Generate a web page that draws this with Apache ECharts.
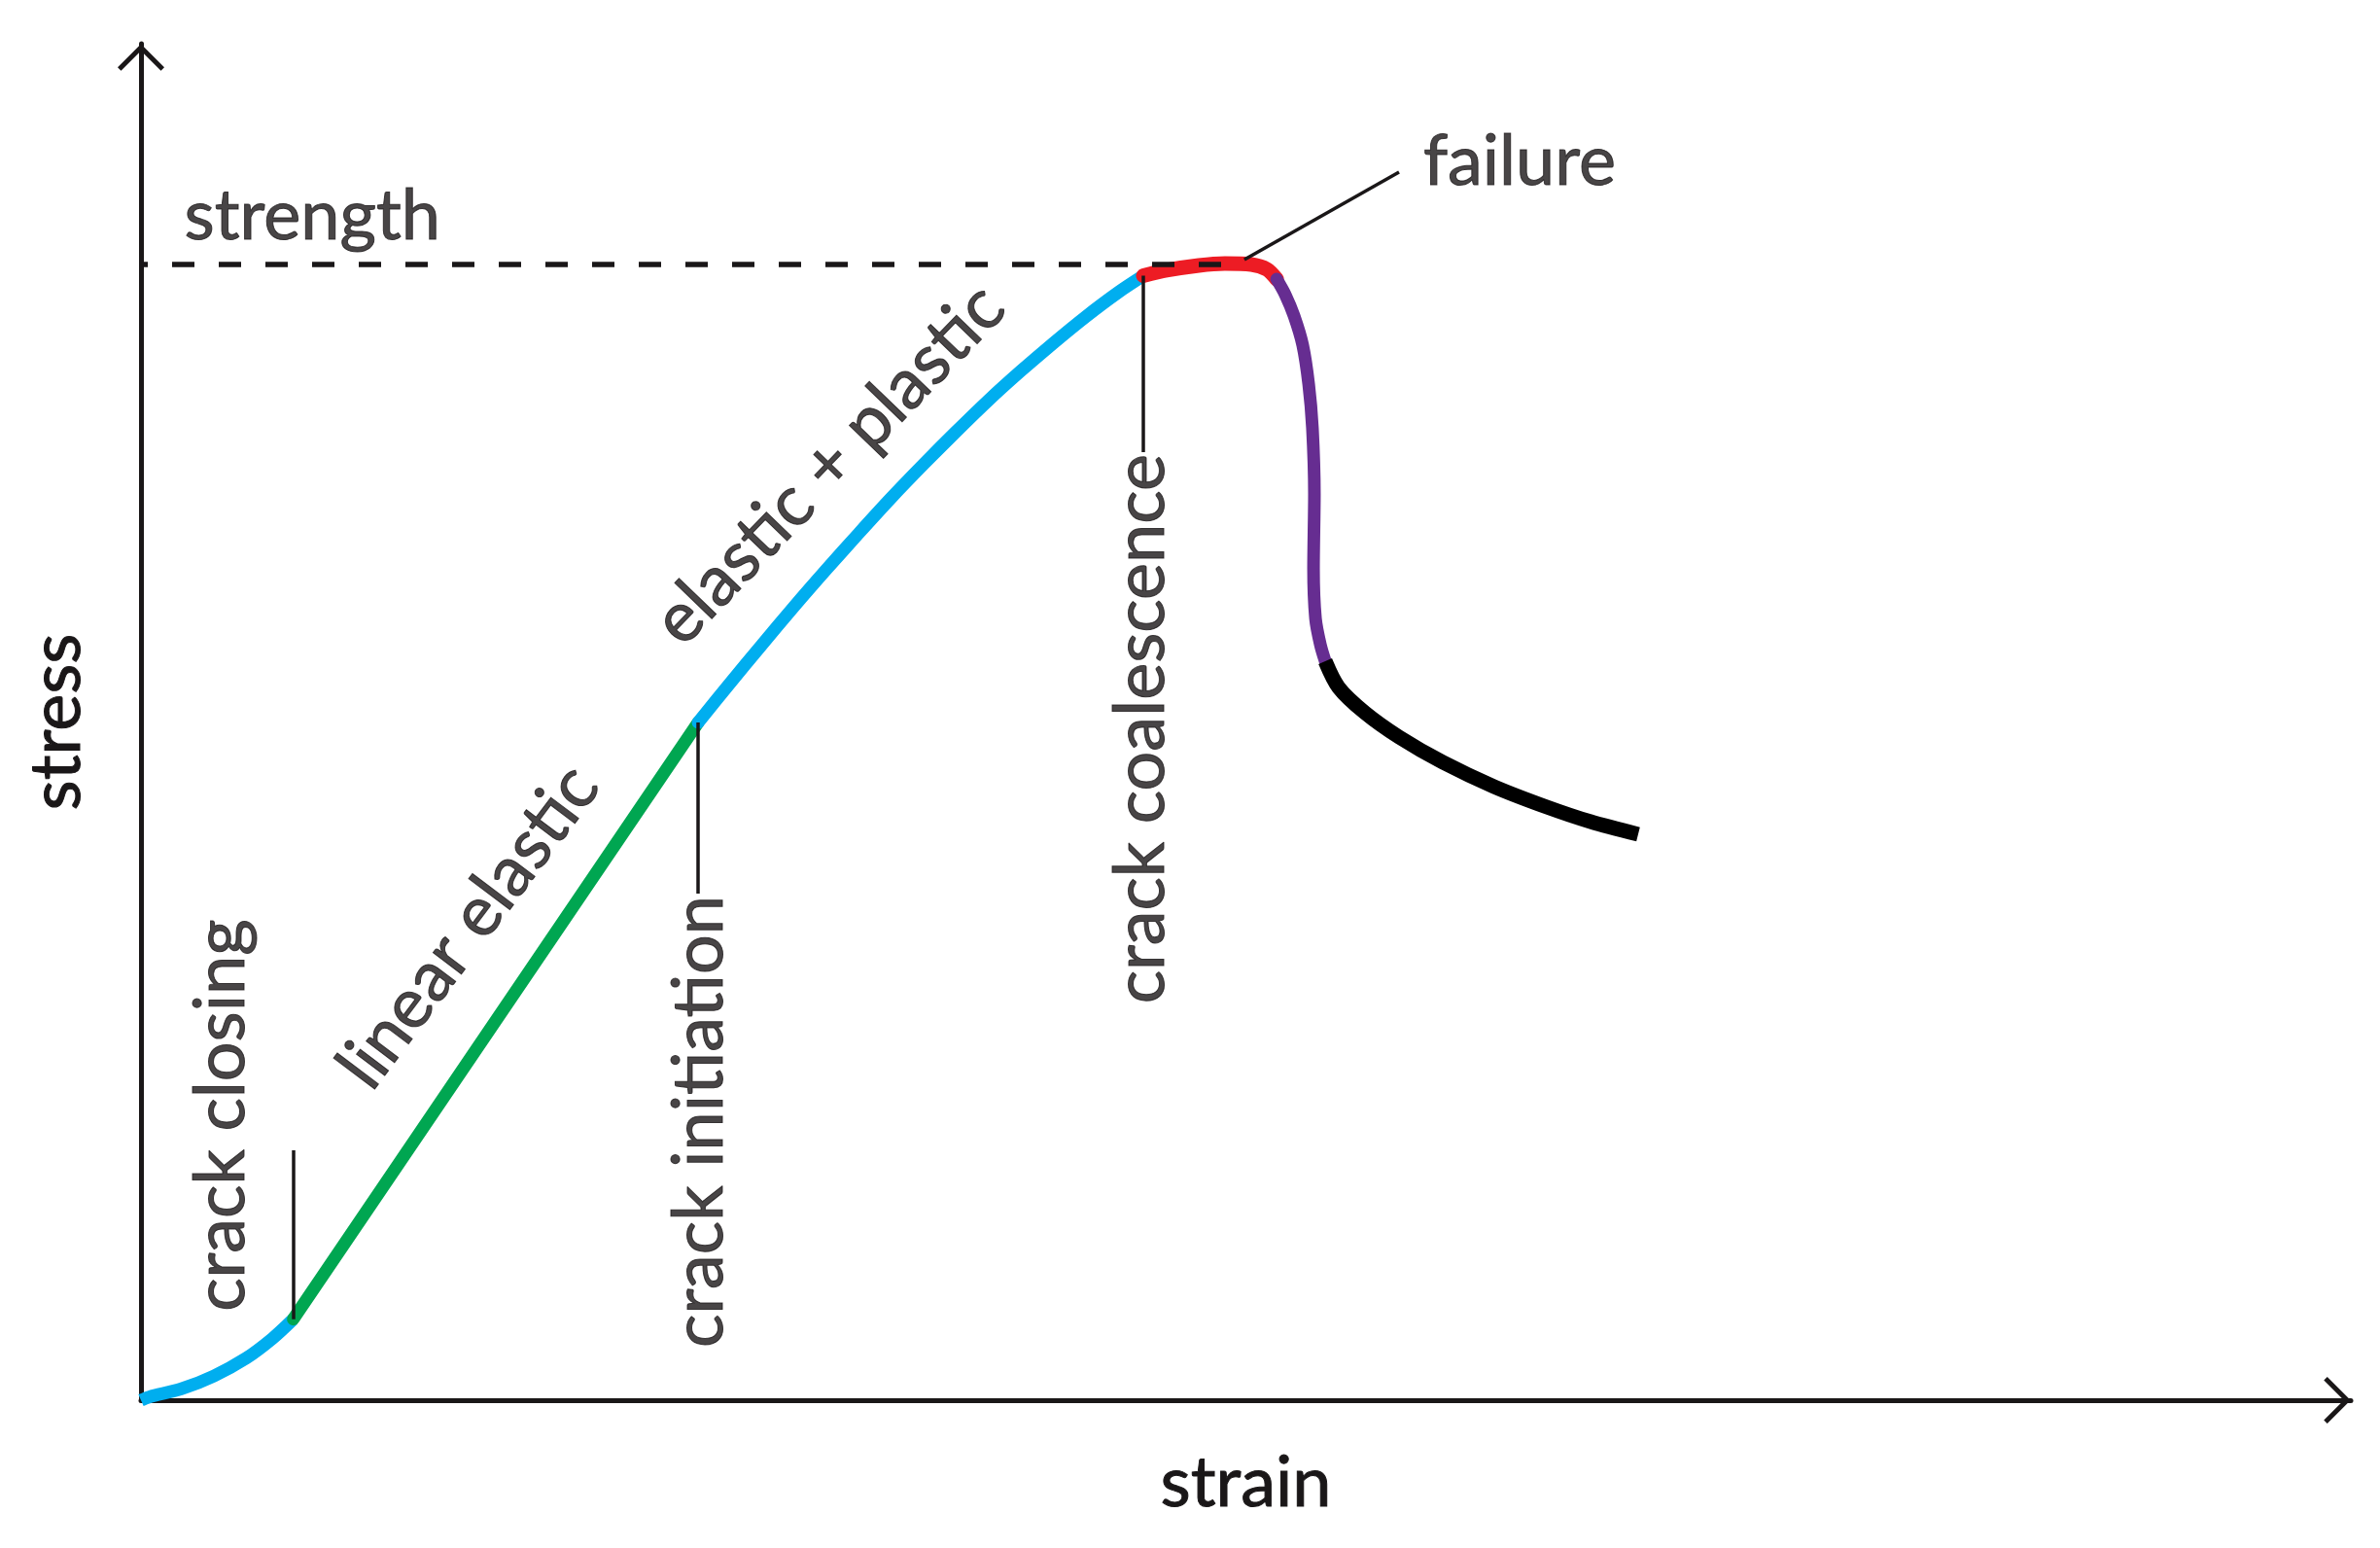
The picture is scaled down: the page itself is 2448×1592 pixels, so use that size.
<!DOCTYPE html>
<html><head><meta charset="utf-8">
<script src="https://cdn.jsdelivr.net/npm/echarts@6/dist/echarts.min.js"></script>
<style>html,body{margin:0;padding:0;background:#fff}#c{width:2448px;height:1592px}</style>
</head><body><div id="c"></div>
<script>
// ---- data: [strain, stress] in arbitrary units ----
const crackClosing = [[0,0],[0.37,0.24],[1.83,0.84],[3.30,1.79],[4.76,3.10],[5.94,4.54],[6.89,5.97]];
const linearElastic = [[6.89,5.97],[25.21,49.96]];
const elasticPlastic = [[25.21,49.96],[26.62,52.79],[28.07,55.64],[29.56,58.52],[31.02,61.25],[32.47,63.89],[33.96,66.54],[35.42,69.01],[36.87,71.38],[38.36,73.73],[39.82,75.88],[41.27,77.91],[42.76,79.89],[44.21,81.66],[45.36,82.90]];
const failurePeak = [[45.36,82.90],[46.41,83.30],[47.87,83.66],[49.05,83.80],[50.24,83.73],[50.95,83.37],[51.39,82.65]];
const stressDrop = [[51.39,82.65],[51.78,81.51],[52.18,79.93],[52.57,77.78],[52.84,74.91],[53.01,71.68],[53.10,66.81],[53.06,61.29],[53.15,57.63],[53.37,55.70],[53.59,54.48]];
const residual = [[53.59,54.48],[54.20,52.54],[55.39,50.68],[56.93,48.89],[58.91,47.03],[61.24,45.23],[63.62,43.73],[65.60,42.65],[67.75,41.72]];
const strengthLevel = 83.73;
const strengthLineEnd = 49.93;
const failureLeader = [[49.93,84.09],[56.93,90.54]];
// stress value where each vertical marker line ends (starts at the stage transition)
const closingMarkTop = 18.42;
const initiationMarkBottom = 37.35;
const coalescenceMarkBottom = 69.89;

const labelTexts = ['strength','failure','crack closing','linear elastic','crack initiation','elastic + plastic','crack coalescence'];

// ---- layout of annotation text (position in data units, rotation, alignment) ----
const labelLayout = [
  {x:1.96, y:87.28, rot:0, align:'left'},
  {x:58.03, y:91.29, rot:0, align:'left'},
  {x:3.63, y:21.0, rot:90, align:'center'},
  {x:14.83, y:34.91, rot:53, align:'center'},
  {x:25.27, y:37.2, rot:90, align:'right'},
  {x:31.15, y:68.98, rot:46, align:'center'},
  {x:45.25, y:69.75, rot:90, align:'right'}
];

const INK = '#1a1718';
const FONT = 'Lato';
const FS = 72;
const chevron = 'path://M24,0 L48,24 L44.5,27.5 L24,7 L3.5,27.5 L0,24 Z';
const textStyle = {fontFamily:FONT, fontSize:FS, color:INK, textBorderColor:INK, textBorderWidth:1};

const chart = echarts.init(document.getElementById('c'), null, {renderer:'canvas'});

function curve(data, color, width, cap) {
  return {type:'line', data:data, smooth:0.3, showSymbol:false, symbol:'none', z:3, clip:false,
    lineStyle:{color:color, width:width, cap:cap||'round', join:'round'}};
}

const closeEnd = crackClosing[crackClosing.length-1];
const initPt = linearElastic[linearElastic.length-1];
const coalPt = elasticPlastic[elasticPlastic.length-1];

const option = {
  animation:false,
  backgroundColor:'#ffffff',
  grid:{left:145, right:30, top:45, bottom:152, containLabel:false},
  xAxis:{type:'value', min:0, max:100,
    name:'strain', nameLocation:'middle', nameGap:50,
    nameTextStyle:textStyle,
    axisLine:{show:true, lineStyle:{color:INK, width:5}, symbol:['none', chevron], symbolSize:[48,28], symbolOffset:[0,-14]},
    axisTick:{show:false}, axisLabel:{show:false}, splitLine:{show:false}},
  yAxis:{type:'value', min:0, max:100,
    name:'stress', nameLocation:'middle', nameGap:50,
    nameTextStyle:textStyle,
    axisLine:{show:true, onZero:false, lineStyle:{color:INK, width:5}, symbol:['none', chevron], symbolSize:[48,28], symbolOffset:[0,-14]},
    axisTick:{show:false}, axisLabel:{show:false}, splitLine:{show:false}},
  series:[
    curve(crackClosing, '#00aeef', 13, 'butt'),
    curve(linearElastic, '#00a651', 13),
    curve(elasticPlastic, '#00aeef', 13),
    curve(failurePeak, '#ed1c24', 15),
    curve(stressDrop, '#662d91', 13),
    curve(residual, '#000000', 15, 'butt'),
    {type:'lines', coordinateSystem:'cartesian2d', z:6, silent:true,
      lineStyle:{color:INK, width:5.5, type:[23,25], dashOffset:16, opacity:1, curveness:0, cap:'butt'},
      data:[{coords:[[0,strengthLevel],[strengthLineEnd,strengthLevel]]}]},
    {type:'lines', coordinateSystem:'cartesian2d', z:6, silent:true,
      lineStyle:{color:INK, width:3.5, opacity:1, curveness:0},
      data:[
        {coords:[closeEnd,[closeEnd[0],closingMarkTop]]},
        {coords:[initPt,[initPt[0],initiationMarkBottom]]},
        {coords:[coalPt,[coalPt[0],coalescenceMarkBottom]]},
        {coords:failureLeader}
      ]},
    {type:'scatter', symbolSize:1, z:10, silent:true, itemStyle:{color:'rgba(0,0,0,0)'},
      data: labelTexts.map((t,i)=>({value:[labelLayout[i].x, labelLayout[i].y],
        label:Object.assign({show:true, position:'inside', formatter:t, rotate:labelLayout[i].rot,
          align:labelLayout[i].align, verticalAlign:'middle'}, textStyle)}))}
  ]
};
chart.setOption(option);
</script></body></html>
